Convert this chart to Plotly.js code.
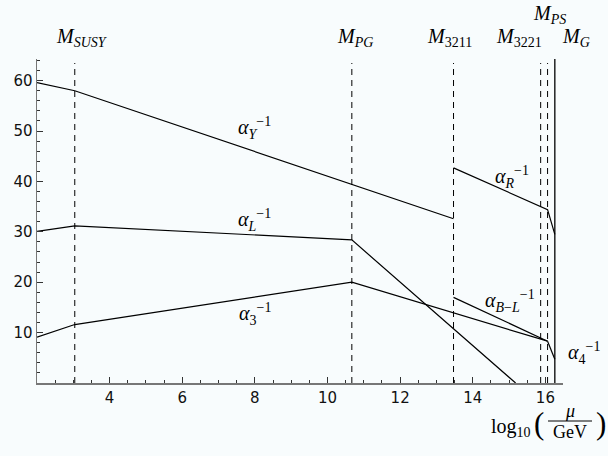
<!DOCTYPE html>
<html>
<head>
<meta charset="utf-8">
<script src="https://cdn.plot.ly/plotly-3.0.1.min.js"></script>
<style>
  html, body { margin: 0; padding: 0; background: #f8fcfd; }
  #chart { width: 608px; height: 456px; }
</style>
</head>
<body>
<div id="chart"></div>
<script>
// scale positions, log10(mu/GeV)
var scaleNames = ['<i>SUSY</i>', '<i>PG</i>', '3211', '3221', '<i>PS</i>'];
var scalePos = [3.04, 10.67, 13.47, 15.87, 16.06];
var mG = 16.26;

// inverse couplings
var alphaY_x = [2, 3.04, 13.47];
var alphaY_y = [59.6, 58.0, 32.6];
var alphaR_x = [13.47, 16.06, 16.26];
var alphaR_y = [42.7, 34.4, 29.5];
var alphaL_x = [2, 3.04, 10.67, 15.18];
var alphaL_y = [30.1, 31.2, 28.4, 0];
var alpha3_x = [2, 3.04, 10.67, 16.06];
var alpha3_y = [9.1, 11.6, 20.0, 8.3];
var alphaBL_x = [13.47, 16.06];
var alphaBL_y = [17.0, 8.3];
var alpha4_x = [16.06, 16.26];
var alpha4_y = [8.3, 4.7];

var xTicks = [4, 6, 8, 10, 12, 14, 16];
var yTicks = [10, 20, 30, 40, 50, 60];

var xRange = [2, 16.485];
var yRange = [0, 64.3];
var serif = 'Liberation Serif, DejaVu Serif, serif';

function curve(x, y) {
  return {x: x, y: y, mode: 'lines', line: {color: 'black', width: 1.2},
          hoverinfo: 'skip', showlegend: false};
}

var data = [
  curve(alphaY_x, alphaY_y),
  curve(alphaR_x, alphaR_y),
  curve(alphaL_x, alphaL_y),
  curve(alpha3_x, alpha3_y),
  curve(alphaBL_x, alphaBL_y),
  curve(alpha4_x, alpha4_y)
];

// dashed scale lines
for (var i = 0; i < scalePos.length; i++) {
  data.push({x: [scalePos[i], scalePos[i]], y: [0, 63.5], mode: 'lines',
             line: {color: 'black', width: 1, dash: '6px,5px'},
             hoverinfo: 'skip', showlegend: false});
}
// unification scale, solid
data.push({x: [mG, mG], y: [0, 64.3], mode: 'lines',
           line: {color: 'black', width: 1.3}, hoverinfo: 'skip', showlegend: false});

// data units -> paper (annotations outside the range are hidden otherwise)
function dx(x) { return (x - xRange[0]) / (xRange[1] - xRange[0]); }
function dy(y) { return (y - yRange[0]) / (yRange[1] - yRange[0]); }

var annotations = [];
function note(text, x, y, size) {
  annotations.push({x: dx(x), y: dy(y), xref: 'paper', yref: 'paper', showarrow: false,
                    xanchor: 'center', yanchor: 'middle', text: text,
                    font: {family: serif, size: size, color: 'black'}});
}

// scale labels
var labelX = [3.23, 10.75, 13.37, 15.27, 16.1];
var labelY = [68.5, 68.5, 68.5, 68.5, 73.2];
for (var i = 0; i < scaleNames.length; i++) {
  note('<i>M</i><sub>' + scaleNames[i] + '</sub>', labelX[i], labelY[i], 20);
}
note('<i>M</i><sub><i>G</i></sub>', 16.84, 68.5, 20);

// coupling labels
function alphaLabel(sub, x, y) {
  note('<i>α</i><sub>' + sub + '</sub><sup>−1</sup>', x, y, 20);
}
alphaLabel('<i>Y</i>', 8.0, 50.6);
alphaLabel('<i>L</i>', 8.0, 32.4);
alphaLabel('3', 8.0, 13.6);
alphaLabel('<i>R</i>', 15.08, 40.8);
alphaLabel('<i>B</i>−<i>L</i>', 15.03, 16.2);
alphaLabel('4', 17.05, 6.0);

// axis title pieces, in pixels -> paper
function px(p) { return (p - 37) / 526; }
function py(p) { return (383 - p) / 324; }
function pt(text, x, y, size) {
  annotations.push({x: px(x), y: py(y), xref: 'paper', yref: 'paper', showarrow: false,
                    xanchor: 'center', yanchor: 'middle', text: text,
                    font: {family: serif, size: size, color: 'black'}});
}
pt('log<sub>10</sub>', 511, 427, 20);
pt('(', 539, 423, 31);
pt('<i>μ</i>', 570, 411, 18);
pt('GeV', 570, 432, 18);
pt(')', 601, 423, 31);

var shapes = [{type: 'line', xref: 'paper', yref: 'paper',
               x0: px(548), x1: px(592), y0: py(421), y1: py(421),
               line: {color: 'black', width: 1}}];

var layout = {
  width: 608, height: 456,
  margin: {l: 37, r: 45, t: 59, b: 73},
  paper_bgcolor: '#f8fcfd', plot_bgcolor: '#f8fcfd',
  showlegend: false,
  xaxis: {
    range: xRange, tickmode: 'array', tickvals: xTicks,
    ticks: 'inside', ticklen: 6, tickcolor: '#333', tickwidth: 1,
    showline: true, linecolor: '#777', linewidth: 1.5,
    showgrid: false, zeroline: false,
    tickfont: {family: 'DejaVu Sans', size: 15, color: '#111'},
    minor: {tickmode: 'linear', tick0: 0, dtick: 0.5, ticks: 'inside', ticklen: 3, tickcolor: '#333'}
  },
  yaxis: {
    range: yRange, tickmode: 'array', tickvals: yTicks,
    ticks: 'inside', ticklen: 6, tickcolor: '#333', tickwidth: 1,
    showline: true, linecolor: '#777', linewidth: 1.5,
    showgrid: false, zeroline: false,
    tickfont: {family: 'DejaVu Sans', size: 15, color: '#111'},
    minor: {tickmode: 'linear', tick0: 0, dtick: 2, ticks: 'inside', ticklen: 3, tickcolor: '#333'}
  },
  annotations: annotations,
  shapes: shapes
};

Plotly.newPlot('chart', data, layout, {displayModeBar: false, staticPlot: true});
</script>
</body>
</html>
